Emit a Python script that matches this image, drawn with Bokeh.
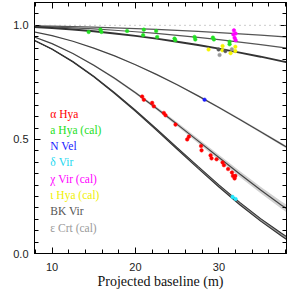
import numpy as np
from bokeh.plotting import figure
from bokeh.models import (Range1d, SingleIntervalTicker, LinearAxis, Span, PrintfTickFormatter,
                          CustomJSTickFormatter)
from bokeh.embed import file_html
from bokeh.resources import INLINE
from bokeh.core.properties import value

# ---- model visibility curves, read at these baselines (m) ----
model_baseline = [7.5, 10.0, 12.5, 15.0, 17.5, 20.0, 22.5, 25.0, 27.5, 30.0, 32.5, 35.0, 37.5, 38.5]
model_cal_1 = [0.9980, 0.9964, 0.9944, 0.9920, 0.9891, 0.9858, 0.9821, 0.9779, 0.9732, 0.9682, 0.9628, 0.9569, 0.9506, 0.9480]
model_cal_2 = [0.9960, 0.9929, 0.9889, 0.9840, 0.9783, 0.9717, 0.9643, 0.9560, 0.9470, 0.9371, 0.9264, 0.9151, 0.9030, 0.8979]
model_cal_3 = [0.9934, 0.9882, 0.9817, 0.9737, 0.9644, 0.9536, 0.9415, 0.9282, 0.9136, 0.8977, 0.8806, 0.8625, 0.8433, 0.8352]
model_n_vel = [0.9744, 0.9548, 0.9300, 0.9002, 0.8659, 0.8273, 0.7849, 0.7392, 0.6908, 0.6400, 0.5873, 0.5336, 0.4794, 0.4576]
model_alpha_hya = [0.9544, 0.9198, 0.8764, 0.8254, 0.7676, 0.7044, 0.6367, 0.5660, 0.4936, 0.4207, 0.3486, 0.2786, 0.2119, 0.1880]
model_delta_vir = [0.9404, 0.8957, 0.8403, 0.7755, 0.7033, 0.6253, 0.5438, 0.4605, 0.3774, 0.2961, 0.2189, 0.1474, 0.0825, 0.0582]

# ---- measured visibilities ----
alpha_hya_b = [20.8, 21.0, 22.0, 22.2, 23.4, 23.6, 24.8, 26.4, 26.2, 27.86, 27.92, 29.0, 29.12, 29.72, 30.44, 30.6, 31.1, 31.56, 31.68, 31.97, 31.88]
alpha_hya_v = [0.688, 0.674, 0.660, 0.645, 0.616, 0.606, 0.565, 0.512, 0.500, 0.471, 0.452, 0.430, 0.417, 0.413, 0.399, 0.387, 0.370, 0.355, 0.340, 0.340, 0.329]
a_hya_b = [14.39, 15.80, 15.92, 19.0, 21.0, 20.92, 22.48, 22.6, 24.68, 24.77, 27.08, 27.17, 29.28, 29.4, 31.28, 31.28]
a_hya_v = [0.971, 0.981, 0.971, 0.975, 0.981, 0.957, 0.975, 0.949, 0.942, 0.935, 0.949, 0.938, 0.946, 0.938, 0.928, 0.917]
n_vel_b = [28.28]
n_vel_v = [0.674]
delta_vir_b = [31.64, 32.0]
delta_vir_v = [0.248, 0.239]
chi_vir_b = [31.8, 32.0, 31.73, 31.88, 32.0]
chi_vir_v = [0.978, 0.964, 0.960, 0.945, 0.935]
iota_hya_b = [28.76, 30.44, 30.41, 31.40, 31.97, 31.97]
iota_hya_v = [0.894, 0.909, 0.891, 0.878, 0.906, 0.887]
bk_vir_b = [29.96, 30.77]
bk_vir_v = [0.894, 0.887]
eps_crt_b = [30.08, 31.55]
eps_crt_v = [0.870, 0.895]

legend_labels = ["\u03b1 Hya", "a Hya  (cal)", "N Vel", "\u03b4 Vir", "\u03c7 Vir  (cal)",
                 "\u03b9 Hya  (cal)", "BK Vir", "\u03b5 Crt  (cal)"]
legend_colors = ["#ff0000", "#22e022", "#1a1aff", "#22d8f0", "#ff00ff", "#f0f000", "#555555", "#9a9a9a"]

x_major = 10
y_major = 0.5

p = figure(width=288, height=291, x_range=Range1d(7.9, 38.1), y_range=Range1d(0, 1.1),
           output_backend="svg", toolbar_location=None,
           min_border_left=34, min_border_right=2, min_border_top=2, min_border_bottom=36)
p.background_fill_color = "white"
p.border_fill_color = "white"
p.outline_line_color = "black"
p.xgrid.visible = False
p.ygrid.visible = False

xt = SingleIntervalTicker(interval=x_major, num_minor_ticks=5)
yt = SingleIntervalTicker(interval=y_major, num_minor_ticks=10)


def style(ax, labels=True):
    ax.axis_line_color = "black"
    ax.major_tick_line_color = "black"
    ax.minor_tick_line_color = "black"
    ax.major_tick_in = 6
    ax.major_tick_out = 0
    ax.minor_tick_in = 4
    ax.minor_tick_out = 0
    if labels:
        ax.major_label_text_font = "Liberation Sans"
        ax.major_label_text_font_size = "11px"
        ax.major_label_text_color = "#222222"
    else:
        ax.formatter = CustomJSTickFormatter(code="return ''")
        ax.major_label_standoff = 0


p.xaxis.ticker = xt
p.yaxis.ticker = yt
p.yaxis.formatter = PrintfTickFormatter(format="%.1f")
style(p.xaxis[0])
style(p.yaxis[0])
p.xaxis.major_label_standoff = 9
p.yaxis.major_label_standoff = 6
p.xaxis.axis_label = "Projected baseline (m)"
p.xaxis.axis_label_text_font = "Liberation Serif"
p.xaxis.axis_label_text_font_style = "normal"
p.xaxis.axis_label_text_font_size = "14px"
p.xaxis.axis_label_text_color = "#111111"
p.xaxis.axis_label_standoff = 0

top_ax = LinearAxis(ticker=SingleIntervalTicker(interval=x_major, num_minor_ticks=5))
right_ax = LinearAxis(ticker=SingleIntervalTicker(interval=y_major, num_minor_ticks=10))
style(top_ax, labels=False)
style(right_ax, labels=False)
p.add_layout(top_ax, "above")
p.add_layout(right_ax, "right")

p.add_layout(Span(location=1.0, dimension="width", line_color="#999999", line_width=1, line_dash="1 4"))

b = np.array(model_baseline)

# uncertainty bands (style only: widen with loss of visibility)
for curve, k, col in [(model_n_vel, 0.012, "#d6d6d6"), (model_alpha_hya, 0.02, "#d2d2d2")]:
    v = np.array(curve)
    h = k * (1 - v)
    p.varea(x=b, y1=v - h, y2=v + h, fill_color=col)

v = np.array(model_delta_vir)
h = 0.0065 * (1 - v)
p.varea(x=b, y1=v - h, y2=v + h, fill_color="#9a9a9a")
p.line(b, v - h, line_color="#333333", line_width=1.1)
p.line(b, v + h, line_color="#333333", line_width=1.1)

p.line(b, model_cal_1, line_color="#555555", line_width=1.2)
p.line(b, model_cal_2, line_color="#555555", line_width=1.2)
p.line(b, model_cal_3, line_color="#333333", line_width=1.9)
p.line(b, model_n_vel, line_color="#444444", line_width=1.2)
p.line(b, model_alpha_hya, line_color="#444444", line_width=1.2)

pts = [(a_hya_b, a_hya_v, legend_colors[1]), (chi_vir_b, chi_vir_v, legend_colors[4]),
       (iota_hya_b, iota_hya_v, "#f5f500"), (bk_vir_b, bk_vir_v, legend_colors[6]),
       (eps_crt_b, eps_crt_v, legend_colors[7]), (alpha_hya_b, alpha_hya_v, legend_colors[0]),
       (n_vel_b, n_vel_v, legend_colors[2]), (delta_vir_b, delta_vir_v, "#22e8ff")]
for xs, ys, c in pts:
    p.scatter(xs, ys, size=3.6, fill_color=c, line_color=c, line_width=0.5)

# text legend
leg_x = [9.8] * len(legend_labels)
leg_y = list(0.613 - 0.0713 * np.arange(len(legend_labels)))
p.text(x=leg_x, y=leg_y, text=legend_labels, text_color=legend_colors,
       text_font=value("Liberation Serif"), text_font_size="11.5px",
       text_baseline="middle", text_align="left")

open("out.html", "w").write(file_html(p, INLINE))
